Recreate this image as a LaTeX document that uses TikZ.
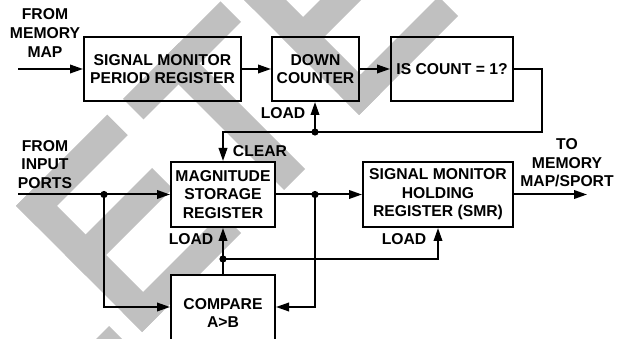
\documentclass[tikz,border=0pt]{standalone}
\usepackage{fontspec}
\setmainfont{Liberation Sans}
\usetikzlibrary{arrows.meta}
\definecolor{wmgray}{RGB}{192,192,192}
% watermark stroke in rotated (s,t) frame: s from #1 to #2, t from #3 to #4
\newcommand\wmrect[4]{\fill[wmgray]
  ({(466-(#3)+(#1))/2},{(466-(#3)-(#1))/2}) --
  ({(466-(#3)+(#2))/2},{(466-(#3)-(#2))/2}) --
  ({(466-(#4)+(#2))/2},{(466-(#4)-(#2))/2}) --
  ({(466-(#4)+(#1))/2},{(466-(#4)-(#1))/2}) -- cycle;}
\begin{document}
\begin{tikzpicture}[x=1pt,y=-1pt,
  txt/.style={font=\fontsize{15.7}{18.6}\selectfont\bfseries, align=center, inner sep=0pt},
  box/.style={txt, draw=black, line width=2pt},
  wbox/.style={box, fill=white},
  ln/.style={line width=2pt, draw=black},
  arr/.style={ln, -{Triangle[length=13pt,width=8.5pt]}},
  dot/.style={fill=black}]
\useasboundingbox (0,0) rectangle (624,339);
\clip (0,0) rectangle (624,339);
% watermark
\wmrect{-380}{-217}{-8}{31}
\wmrect{-190}{-149}{-8}{244}
\wmrect{-190}{-7.5}{203}{244}
\wmrect{-190}{-16}{105}{146}
\wmrect{-190}{8}{-8}{31}
\wmrect{24}{219}{203}{244}
\wmrect{94}{136}{-8}{244}
\wmrect{244}{286}{-8}{244}
\wmrect{244}{440}{203}{244}
\wmrect{244}{430}{105}{146}
\wmrect{244}{442}{-8}{31}
% boxes
\node[box, minimum width=157pt, minimum height=64pt] (smpr) at (162.5,69) {SIGNAL MONITOR\\PERIOD REGISTER};
\node[box, minimum width=87pt, minimum height=64pt] (dc) at (315.5,69) {DOWN\\COUNTER};
\node[box, minimum width=122pt, minimum height=64pt] (isc) at (452,69) {IS COUNT = 1?};
\node[wbox, minimum width=104pt, minimum height=65pt] (msr) at (223,194.5) {MAGNITUDE\\STORAGE\\REGISTER};
\node[wbox, minimum width=150pt, minimum height=65pt] (smr) at (438,194.5) {SIGNAL MONITOR\\HOLDING\\REGISTER (SMR)};
\node[wbox, minimum width=104pt, minimum height=76pt] (cmp) at (223,313) {COMPARE\\A>B};
% labels
\node[txt] (lfm) at (45,33) {FROM\\MEMORY\\MAP};
\node[txt] (lfi) at (45,164.5) {FROM\\INPUT\\PORTS};
\node[txt] (lto) at (567,163) {TO\\MEMORY\\MAP/SPORT};
\node[txt] (ld1) at (283,113) {LOAD};
\node[txt] (clr) at (260,151) {CLEAR};
\node[txt] (ld2) at (191,239) {LOAD};
\node[txt] (ld3) at (404,239) {LOAD};
% coordinates
\coordinate (in1) at (18,69);
\coordinate (in2) at (18,194.5);
\coordinate (out) at (587,194.5);
\coordinate (cr) at (542,132);
\coordinate (d1) at (315,132);
\coordinate (d2) at (104,194.5);
\coordinate (d3) at (315,194.5);
\coordinate (d4) at (223,259);
% connectors
\draw[arr] (in1) -- (smpr.west);
\draw[arr] (smpr.east) -- (dc.west);
\draw[arr] (dc.east) -- (isc.west);
\draw[arr] (isc.east) -| (cr) -- (msr.north |- cr) -- (msr.north);
\draw[arr] (d1) -- (d1 |- dc.south);
\draw[arr] (in2) -- (msr.west);
\draw[arr] (d2) |- ([yshift=6pt]cmp.west);
\draw[arr] (msr.east) -- (smr.west);
\draw[arr] (d3) |- ([yshift=6pt]cmp.east);
\draw[arr] (cmp.north) -- (msr.south);
\draw[arr] (d4) -| (smr.south);
\draw[arr] (smr.east) -- (out);
\fill[dot] (d1) circle[radius=3.6pt];
\fill[dot] (d2) circle[radius=3.6pt];
\fill[dot] (d3) circle[radius=3.6pt];
\fill[dot] (d4) circle[radius=3.6pt];
\end{tikzpicture}
\end{document}
